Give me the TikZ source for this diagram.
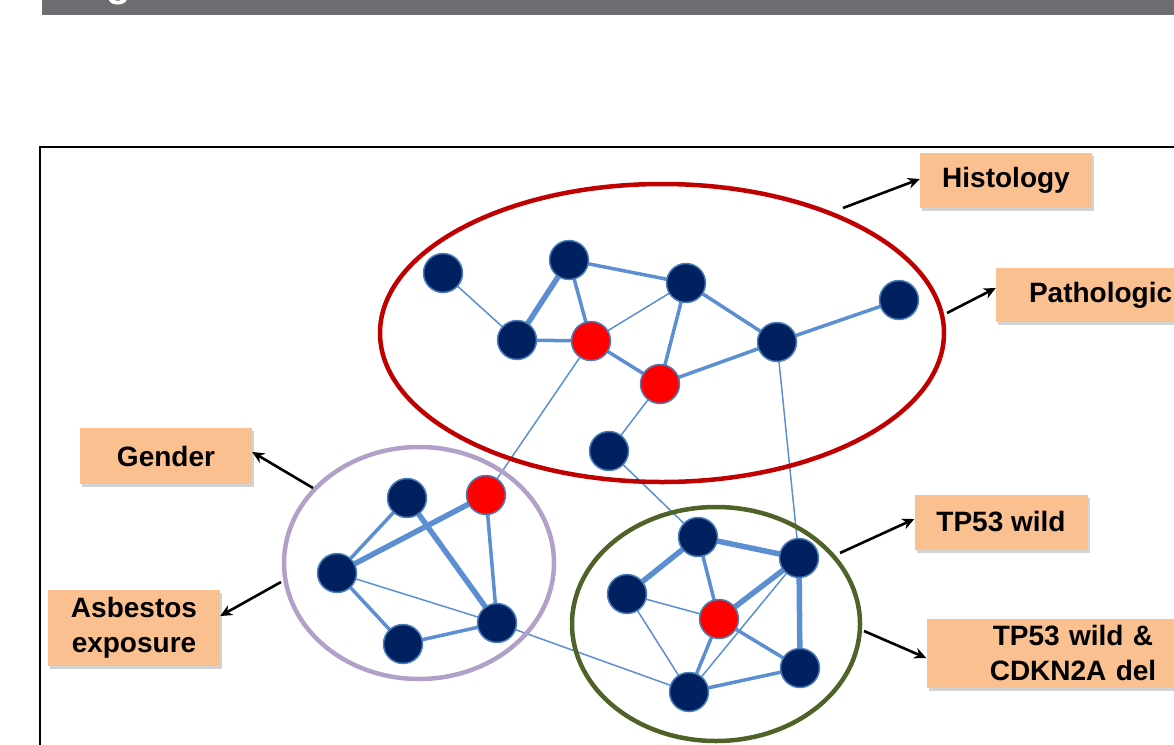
\documentclass[tikz,border=0pt]{standalone}
\usepackage{fontspec}
\setmainfont{Liberation Sans}
\usetikzlibrary{shadows,arrows.meta}
\definecolor{navy}{HTML}{002060}
\definecolor{nodeedge}{HTML}{4A7EBB}
\definecolor{linkblue}{HTML}{5B8FD2}
\definecolor{peach}{HTML}{FAC090}
\definecolor{darkred}{HTML}{C00000}
\definecolor{lavender}{HTML}{B1A0C7}
\definecolor{olive}{HTML}{4F6228}
\definecolor{bargray}{HTML}{6D6E71}
\begin{document}
\begin{tikzpicture}[x=1pt,y=-1pt,
  dnode/.style={circle,fill=navy,draw=nodeedge,line width=1.5pt,minimum size=39pt,inner sep=0pt},
  rnode/.style={circle,fill=red,draw=nodeedge,line width=1.5pt,minimum size=39pt,inner sep=0pt},
  thinl/.style={draw=linkblue,line width=1.5pt},
  medl/.style={draw=linkblue,line width=3.5pt},
  thickl/.style={draw=linkblue,line width=5.5pt},
  lbl/.style={fill=peach,font=\bfseries\fontsize{28}{32}\selectfont,text=black,inner sep=0pt,
     drop shadow={shadow xshift=2pt,shadow yshift=-3pt,opacity=0.35}},
  twoline/.style={font=\bfseries\fontsize{28}{35}\selectfont},
  arr/.style={draw=black,line width=2.6pt,-{Stealth[length=12pt,width=11pt]}},
  grp/.style={line width=4.5pt}]
\useasboundingbox (0,0) rectangle (1174,744);
\clip (0,0) rectangle (1174,744);
% top bar
\fill[bargray] (42,0) rectangle (1180,15);
\node[anchor=base west,inner sep=0pt,text=white,font=\bfseries\fontsize{40}{44}\selectfont] (ttl) at (106,-4) {g};
% frame
\draw[line width=2.6pt] (40,760) -- (40,147) -- (1190,147);

% node coordinates
\coordinate (A) at (443,273);
\coordinate (B) at (569,260);
\coordinate (C) at (686,283);
\coordinate (D) at (517,340);
\coordinate (E) at (591,341);
\coordinate (F) at (660,384);
\coordinate (G) at (777,342);
\coordinate (H) at (899,300);
\coordinate (I) at (609,451);
\coordinate (J) at (407,498);
\coordinate (K) at (486,495);
\coordinate (L) at (337,573);
\coordinate (M) at (403,644);
\coordinate (N) at (497,623);
\coordinate (O) at (698,537);
\coordinate (P) at (799,558);
\coordinate (Q) at (627,594);
\coordinate (R) at (719,619);
\coordinate (S) at (800,668);
\coordinate (T) at (689,692);

% edges
\draw[thinl] (A) -- (D);
\draw[thickl] (D) -- (B);
\draw[medl] (B) -- (E);
\draw[medl] (B) -- (C);
\draw[medl] (D) -- (E);
\draw[thinl] (E) -- (C);
\draw[medl] (E) -- (F);
\draw[medl] (C) -- (F);
\draw[medl] (C) -- (G);
\draw[medl] (F) -- (G);
\draw[medl] (G) -- (H);
\draw[thinl] (E) -- (K);
\draw[thinl] (F) -- (I);
\draw[thinl] (I) -- (O);
\draw[thinl] (G) -- (P);
\draw[medl] (J) -- (L);
\draw[thickl] (L) -- (K);
\draw[thickl] (J) -- (N);
\draw[medl] (K) -- (N);
\draw[thinl] (L) -- (N);
\draw[medl] (L) -- (M);
\draw[medl] (M) -- (N);
\draw[thinl] (N) -- (T);
\draw[thickl] (O) -- (P);
\draw[thickl] (O) -- (Q);
\draw[medl] (O) -- (R);
\draw[thickl] (P) -- (R);
\draw[thickl] (P) -- (S);
\draw[thinl] (P) -- (T);
\draw[thinl] (Q) -- (R);
\draw[thinl] (Q) -- (T);
\draw[medl] (R) -- (T);
\draw[medl] (R) -- (S);
\draw[medl] (T) -- (S);

% group ellipses
\draw[grp,darkred] (662,333) ellipse [x radius=282, y radius=149];
\draw[grp,lavender] (419,563) ellipse [x radius=135, y radius=116];
\draw[grp,olive] (716,624) ellipse [x radius=144, y radius=117];

% nodes
\foreach \n in {A,B,C,D,G,H,I,J,L,M,N,O,P,Q,S,T} \node[dnode] (n\n) at (\n) {};
\foreach \n in {E,F,K,R} \node[rnode] (n\n) at (\n) {};

% labels
\node[lbl,minimum width=172pt,minimum height=55pt] (hist) at (1006,180) {Histology};
\node[lbl,minimum width=266pt,minimum height=54pt,text width=200pt,align=left] (path) at (1129,295) {Pathologic};
\node[lbl,minimum width=172pt,minimum height=56pt] (gend) at (166,456) {Gender};
\node[lbl,twoline,minimum width=172pt,minimum height=76pt,align=center] (asb) at (134,628) {Asbestos\\exposure};
\node[lbl,minimum width=173pt,minimum height=55pt] (tpw) at (1001,522) {TP53 wild};
\node[lbl,twoline,minimum width=293pt,minimum height=69pt,align=center,text width=210pt] (tpd) at (1073,653) {TP53 wild \&\\CDKN2A del};

% arrows
\coordinate (t1) at (843,208);
\coordinate (t2) at (947,313);
\coordinate (t3) at (313,488);
\coordinate (t4) at (281,582);
\coordinate (t5) at (840,553);
\coordinate (t6) at (864,631);
\draw[arr] (t1) -- ([yshift=1pt]hist.west);
\draw[arr] (t2) -- ([yshift=7pt]path.west);
\draw[arr] (t3) -- ([yshift=4pt]gend.east);
\draw[arr] (t4) -- ([yshift=12pt]asb.east);
\draw[arr] (t5) -- ([yshift=3pt]tpw.west);
\draw[arr] (t6) -- ([yshift=-5pt]tpd.west);
\end{tikzpicture}
\end{document}
